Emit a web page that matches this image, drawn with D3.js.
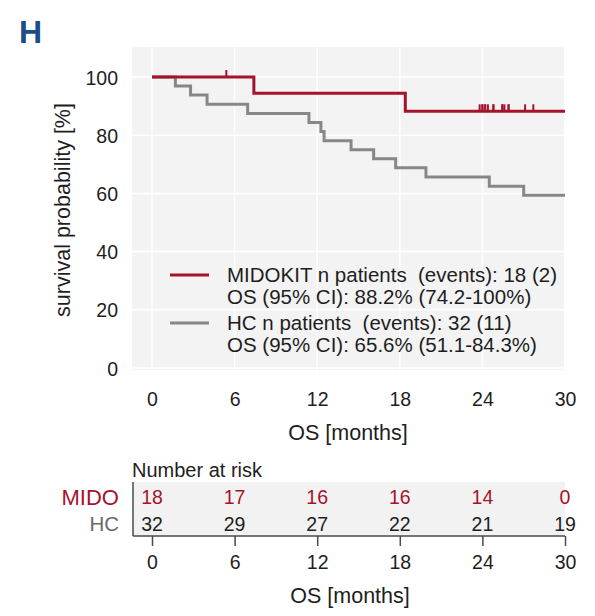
<!DOCTYPE html>
<html>
<head>
<meta charset="utf-8">
<script src="https://cdn.jsdelivr.net/npm/d3@7/dist/d3.min.js"></script>
<style>
  html, body { margin: 0; padding: 0; background: #fff; }
  svg { display: block; font-family: "Liberation Sans", Arial, sans-serif; }
</style>
</head>
<body>
<svg id="chart" width="595" height="616"></svg>
<script>
// Kaplan–Meier overall survival, MIDOKIT vs historical control (HC)
const monthTicks = [0, 6, 12, 18, 24, 30];
const survTicks = [0, 20, 40, 60, 80, 100];
const followUp = 30;

// step curves: event times (months) and survival (%) after each step
const midoTimes = [0, 7.4, 18.4];
const midoSurv  = [100, 94.4, 88.2];
const hcTimes = [0, 1.7, 2.8, 4.0, 6.95, 11.4, 12.27, 12.5, 14.46, 16.1, 17.7, 19.9, 24.5, 27.0];
const hcSurv  = [100, 96.9, 93.8, 90.6, 87.5, 84.4, 81.3, 78.1, 75.0, 71.9, 68.8, 65.6, 62.5, 59.4];

// censored MIDOKIT patients (months)
const midoCensored = [5.4, 23.8, 24.0, 24.0, 24.2, 24.2, 24.4, 24.8, 24.8, 25.45, 25.45, 25.6, 25.9, 25.9, 27.1, 27.7];

// number at risk per tick
const riskMido = [18, 17, 16, 16, 14, 0];
const riskHC   = [32, 29, 27, 22, 21, 19];

const legendLines = [
  ["MIDOKIT n patients  (events): 18 (2)", "OS (95% CI): 88.2% (74.2-100%)"],
  ["HC n patients  (events): 32 (11)", "OS (95% CI): 65.6% (51.1-84.3%)"]
];

const RED = "#a5122d", GREY = "#878787", TXT = "#1e1e1e";

const svg = d3.select("#chart");

const x = d3.scaleLinear().domain([0, 30]).range([152, 565]);
const y = d3.scaleLinear().domain([0, 100]).range([368, 77]);
const panel = { left: 132, right: 564, top: 47, bottom: 370 };

// panel title letter
svg.append("text").attr("x", 19).attr("y", 43)
  .attr("font-size", 32).attr("font-weight", "bold").attr("fill", "#1c4d8a")
  .text("H");

// panel background + grid
svg.append("rect")
  .attr("x", panel.left).attr("y", panel.top)
  .attr("width", panel.right - panel.left).attr("height", panel.bottom - panel.top)
  .attr("fill", "#f3f3f3");

svg.append("g").selectAll("line").data(survTicks).join("line")
  .attr("x1", panel.left).attr("x2", panel.right)
  .attr("y1", d => y(d)).attr("y2", d => y(d))
  .attr("stroke", "#fff").attr("stroke-width", 1.5);

svg.append("g").selectAll("line").data(monthTicks.slice(0, -1)).join("line")
  .attr("x1", d => x(d)).attr("x2", d => x(d))
  .attr("y1", panel.top).attr("y2", panel.bottom)
  .attr("stroke", "#fff").attr("stroke-width", 1.5);

// y axis labels
const yAxis = d3.axisLeft(y).tickValues(survTicks).tickSize(0).tickPadding(0);
const yg = svg.append("g").attr("transform", "translate(118,0)").call(yAxis);
yg.select(".domain").remove();
yg.selectAll("text").attr("font-size", 19.5).attr("fill", TXT)
  .attr("font-family", "Liberation Sans, Arial, sans-serif").attr("dy", "0.36em");

// x axis labels
const xAxis = d3.axisBottom(x).tickValues(monthTicks).tickSize(0).tickPadding(0);
const xg = svg.append("g").attr("transform", "translate(0,392)").call(xAxis);
xg.select(".domain").remove();
xg.selectAll("text").attr("font-size", 19.5).attr("fill", TXT)
  .attr("font-family", "Liberation Sans, Arial, sans-serif").attr("dy", "0.71em");

svg.append("text").attr("x", 348).attr("y", 440).attr("text-anchor", "middle")
  .attr("font-size", 21.5).attr("fill", TXT).text("OS [months]");

svg.append("text").attr("transform", "translate(70,210) rotate(-90)")
  .attr("text-anchor", "middle").attr("font-size", 21.5).attr("fill", TXT)
  .text("survival probability [%]");

// survival curves
const step = d3.line().x(d => x(d[0])).y(d => y(d[1])).curve(d3.curveStepAfter);
function curvePoints(times, surv) {
  const pts = times.map((t, i) => [t, surv[i]]);
  pts.push([followUp, surv[surv.length - 1]]);
  return pts;
}

svg.append("path").datum(curvePoints(hcTimes, hcSurv))
  .attr("d", step).attr("fill", "none").attr("stroke", GREY).attr("stroke-width", 3);

svg.append("path").datum(curvePoints(midoTimes, midoSurv))
  .attr("d", step).attr("fill", "none").attr("stroke", RED).attr("stroke-width", 3);

// censoring ticks on MIDOKIT curve
function survAt(times, surv, t) {
  let s = surv[0];
  times.forEach((tt, i) => { if (tt <= t) s = surv[i]; });
  return s;
}
svg.append("g").selectAll("line").data(midoCensored).join("line")
  .attr("x1", d => x(d)).attr("x2", d => x(d))
  .attr("y1", d => y(survAt(midoTimes, midoSurv, d)) - 7)
  .attr("y2", d => y(survAt(midoTimes, midoSurv, d)))
  .attr("stroke", RED).attr("stroke-width", 2);

// legend
const lg = svg.append("g");
[RED, GREY].forEach((c, i) => {
  const base = 282 + i * 48;
  lg.append("line").attr("x1", 170).attr("x2", 209)
    .attr("y1", base - 7).attr("y2", base - 7)
    .attr("stroke", c).attr("stroke-width", 3);
  legendLines[i].forEach((t, j) => {
    lg.append("text").attr("x", 227).attr("y", base + j * 22)
      .attr("font-size", 20.5).attr("fill", TXT).attr("xml:space", "preserve")
      .style("white-space", "pre").text(t);
  });
});

// number-at-risk table
const tbl = { top: 482, bottom: 536 };
svg.append("text").attr("x", 132).attr("y", 477)
  .attr("font-size", 20).attr("fill", TXT).text("Number at risk");

svg.append("rect").attr("x", 133).attr("y", tbl.top)
  .attr("width", x(30) - 133).attr("height", tbl.bottom - tbl.top)
  .attr("fill", "#f2f2f2");

svg.append("line").attr("x1", 133).attr("x2", 133)
  .attr("y1", tbl.top).attr("y2", tbl.bottom)
  .attr("stroke", "#4a4a4a").attr("stroke-width", 1.5);

const tAxis = d3.axisBottom(x).tickValues(monthTicks).tickSize(10).tickPadding(9).tickSizeOuter(0);
const tg = svg.append("g").attr("transform", `translate(0,${tbl.bottom})`).call(tAxis);
tg.select(".domain").attr("d", `M133,0H${x(30)}`).attr("stroke", "#4a4a4a").attr("stroke-width", 1.5);
tg.selectAll(".tick line").attr("stroke", "#4a4a4a").attr("stroke-width", 1.5);
tg.selectAll("text").attr("font-size", 19.5).attr("fill", TXT)
  .attr("font-family", "Liberation Sans, Arial, sans-serif");

svg.append("text").attr("x", 350).attr("y", 603).attr("text-anchor", "middle")
  .attr("font-size", 21.5).attr("fill", TXT).text("OS [months]");

svg.append("text").attr("x", 119).attr("y", 505).attr("text-anchor", "end")
  .attr("font-size", 22).attr("fill", RED).text("MIDO");
svg.append("text").attr("x", 119).attr("y", 531).attr("text-anchor", "end")
  .attr("font-size", 20.5).attr("fill", "#6a6a6a").text("HC");

svg.append("g").selectAll("text").data(riskMido).join("text")
  .attr("x", (d, i) => x(monthTicks[i])).attr("y", 504)
  .attr("text-anchor", "middle").attr("font-size", 19.5).attr("fill", RED)
  .text(d => d);
svg.append("g").selectAll("text").data(riskHC).join("text")
  .attr("x", (d, i) => x(monthTicks[i])).attr("y", 531)
  .attr("text-anchor", "middle").attr("font-size", 19.5).attr("fill", TXT)
  .text(d => d);
</script>
</body>
</html>
